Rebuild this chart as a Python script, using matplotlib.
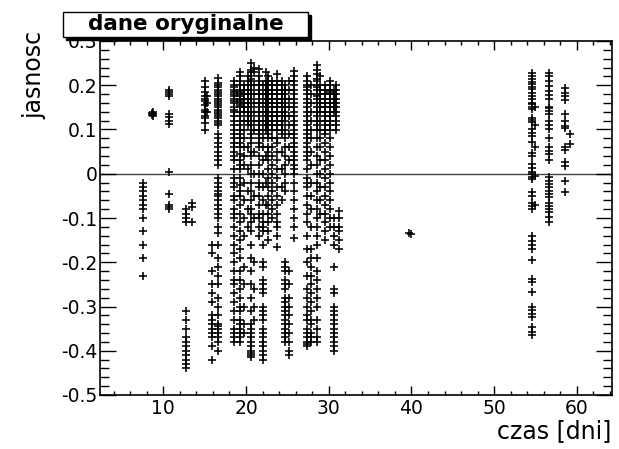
import numpy as np
import matplotlib
matplotlib.use("Agg")
import matplotlib.pyplot as plt
from matplotlib.ticker import MultipleLocator, FuncFormatter
from matplotlib.patches import Rectangle

plt.rcParams['font.family'] = ['DejaVu Sans']
plt.rcParams['axes.unicode_minus'] = False

title_text = "dane oryginalne"
x_label = "czas [dni]"
y_label = "jasnosc"

col_x = [7.6, 8.6, 8.8, 10.7, 12.7, 13.5, 15.0, 15.3, 15.9, 16.6,
         18.6, 19.3, 19.8, 20.2, 20.6, 21.0, 21.6, 22.1, 22.4, 22.7,
         23.2, 23.8, 24.3, 24.7, 25.2, 25.8, 27.4, 27.9, 28.6, 29.0,
         29.6, 30.2, 30.6, 30.9, 31.2, 39.7, 39.9, 54.6, 54.9, 56.6,
         58.6, 59.2]

col_y = [
    [-0.02, -0.03, -0.04, -0.05, -0.06, -0.07, -0.08, -0.10, -0.13, -0.16, -0.19, -0.23],
    [0.138, 0.133],
    [0.140, 0.135, 0.131],
    [0.19, 0.185, 0.18, 0.175, 0.135, 0.128, 0.12, 0.113, 0.005, -0.045, -0.07, -0.075, -0.08],
    [-0.08, -0.09, -0.10, -0.11, -0.31, -0.33, -0.35, -0.37, -0.38, -0.39, -0.40, -0.41,
     -0.42, -0.43, -0.44],
    [-0.065, -0.075, -0.11],
    [0.21, 0.195, 0.185, 0.175, 0.17, 0.165, 0.155, 0.145, 0.14, 0.13, 0.125, 0.115, 0.10],
    [0.175, 0.16, 0.14],
    [-0.16, -0.18, -0.22, -0.25, -0.27, -0.29, -0.32, -0.33, -0.34, -0.35, -0.36, -0.37,
     -0.39, -0.42],
    [0.216, 0.205, 0.20, 0.195, 0.19, 0.185, 0.18, 0.175, 0.17, 0.165, 0.16, 0.155, 0.15,
     0.145, 0.14, 0.135, 0.13, 0.125, 0.12, 0.115, 0.11, 0.09, 0.08, 0.07, 0.06, 0.05,
     0.04, 0.03, 0.02, -0.01, -0.02, -0.03, -0.04, -0.045, -0.05, -0.06, -0.07, -0.08,
     -0.09, -0.10, -0.12, -0.135, -0.16, -0.19, -0.21, -0.23, -0.25, -0.28, -0.30, -0.32,
     -0.34, -0.345, -0.35, -0.36, -0.37, -0.38, -0.40],
    [0.21, 0.20, 0.195, 0.19, 0.185, 0.18, 0.175, 0.17, 0.165, 0.16, 0.15, 0.145, 0.14,
     0.13, 0.12, 0.11, 0.10, 0.09, 0.08, 0.07, 0.06, 0.05, 0.04, 0.03, 0.01, -0.01, -0.02,
     -0.03, -0.05, -0.06, -0.08, -0.09, -0.10, -0.12, -0.14, -0.16, -0.18, -0.20, -0.22,
     -0.24, -0.25, -0.27, -0.29, -0.31, -0.33, -0.35, -0.36, -0.37, -0.38],
    [0.23, 0.22, 0.21, 0.20, 0.19, 0.185, 0.18, 0.175, 0.17, 0.165, 0.16, 0.155, 0.15,
     0.14, 0.13, 0.12, 0.11, 0.10, 0.09, 0.08, 0.07, 0.06, 0.045, 0.03, 0.02, 0.01, -0.01,
     -0.025, -0.04, -0.05, -0.07, -0.09, -0.11, -0.13, -0.15, -0.17, -0.19, -0.22, -0.24,
     -0.26, -0.28, -0.30, -0.31, -0.33, -0.34, -0.35, -0.36, -0.37, -0.38],
    [0.20, 0.19, 0.18, 0.17, 0.16, 0.15, 0.14, 0.12, 0.10, 0.08, 0.06, 0.04, 0.02, -0.02,
     -0.06, -0.10, -0.14, -0.21, -0.25, -0.30, -0.34, -0.36],
    [0.22, 0.21, 0.20, 0.19, 0.18, 0.17, 0.16, 0.15, 0.14, 0.13, 0.12, 0.11, 0.06, 0.01,
     -0.04, -0.08, -0.12],
    [0.25, 0.235, 0.23, 0.22, 0.215, 0.21, 0.20, 0.19, 0.18, 0.17, 0.16, 0.15, 0.14, 0.13,
     0.12, 0.11, 0.10, 0.09, 0.08, 0.07, 0.05, 0.04, 0.02, 0.0, -0.02, -0.04, -0.06,
     -0.08, -0.09, -0.11, -0.13, -0.16, -0.19, -0.22, -0.25, -0.28, -0.31, -0.34, -0.35,
     -0.36, -0.37, -0.38, -0.39, -0.40, -0.405, -0.41, -0.415],
    [0.24, 0.23, 0.20, 0.18, 0.16, 0.14, 0.12, 0.10, 0.05, 0.0, -0.05, -0.10, -0.20,
     -0.26, -0.30, -0.33],
    [0.236, 0.22, 0.21, 0.20, 0.19, 0.18, 0.17, 0.16, 0.15, 0.14, 0.13, 0.12, 0.11, 0.10,
     0.09, 0.08, 0.07, 0.06, 0.04, 0.02, 0.0, -0.02, -0.03, -0.05, -0.07, -0.09, -0.10,
     -0.12, -0.14],
    [0.20, 0.18, 0.16, 0.14, 0.12, 0.10, 0.08, 0.06, 0.03, 0.0, -0.03, -0.06, -0.09,
     -0.11, -0.12, -0.13, -0.16, -0.20, -0.21, -0.24, -0.25, -0.26, -0.27, -0.30, -0.31,
     -0.32, -0.33, -0.35, -0.36, -0.37, -0.38, -0.39, -0.40, -0.41, -0.42],
    [0.23, 0.21, 0.20, 0.19, 0.18, 0.17, 0.16, 0.15, 0.14, 0.13, 0.12, 0.11, 0.10, 0.04,
     -0.02, -0.07],
    [0.22, 0.21, 0.20, 0.19, 0.18, 0.17, 0.16, 0.15, 0.14, 0.13, 0.12, 0.11, 0.10, 0.09,
     0.08, 0.06, 0.05, 0.03, 0.01, -0.01, -0.03, -0.05, -0.07, -0.09, -0.11, -0.13, -0.15],
    [0.21, 0.20, 0.19, 0.18, 0.17, 0.16, 0.15, 0.14, 0.13, 0.12, 0.11, 0.10, 0.08, 0.06,
     0.04, 0.02, 0.0, -0.02, -0.04, -0.06, -0.08, -0.10],
    [0.225, 0.21, 0.20, 0.19, 0.18, 0.17, 0.16, 0.15, 0.14, 0.13, 0.12, 0.11, 0.10, 0.08,
     0.07, 0.05, 0.03, 0.01, -0.01, -0.03, -0.05, -0.07, -0.09, -0.11, -0.12, -0.14, -0.165],
    [0.21, 0.20, 0.19, 0.18, 0.17, 0.16, 0.15, 0.14, 0.13, 0.12, 0.11, 0.10, 0.09, 0.05,
     0.01, -0.03, -0.06],
    [0.20, 0.19, 0.18, 0.17, 0.16, 0.15, 0.14, 0.13, 0.12, 0.10, 0.08, 0.06, 0.04, 0.02,
     0.0, -0.02, -0.04, -0.20, -0.21, -0.22, -0.24, -0.25, -0.26, -0.28, -0.29, -0.30,
     -0.31, -0.32, -0.33, -0.34, -0.35, -0.36, -0.37, -0.38],
    [0.21, 0.19, 0.17, 0.15, 0.13, 0.11, 0.09, 0.06, 0.03, -0.22, -0.25, -0.28, -0.30,
     -0.32, -0.34, -0.36, -0.38, -0.40, -0.41],
    [0.232, 0.22, 0.21, 0.20, 0.19, 0.18, 0.17, 0.16, 0.15, 0.14, 0.13, 0.12, 0.11, 0.10,
     0.09, 0.08, 0.07, 0.06, 0.05, 0.04, 0.03, 0.02, 0.01, 0.0, -0.02, -0.04, -0.06,
     -0.08, -0.10, -0.12, -0.145],
    [0.22, 0.21, 0.20, 0.195, 0.19, 0.18, 0.17, 0.16, 0.15, 0.14, 0.13, 0.12, 0.11, 0.10,
     0.09, 0.08, 0.07, 0.06, 0.05, 0.04, 0.03, 0.01, -0.01, -0.02, -0.03, -0.05, -0.07,
     -0.09, -0.11, -0.14, -0.17, -0.20, -0.23, -0.26, -0.28, -0.30, -0.32, -0.33, -0.35,
     -0.36, -0.37, -0.38, -0.385, -0.39],
    [0.20, 0.18, 0.16, 0.14, 0.12, 0.10, 0.08, 0.05, 0.02, -0.02, -0.05, -0.08, -0.12,
     -0.17, -0.19, -0.21, -0.23, -0.25, -0.27, -0.29, -0.31, -0.33, -0.34, -0.36, -0.37,
     -0.38],
    [0.245, 0.235, 0.225, 0.215, 0.21, 0.20, 0.195, 0.19, 0.18, 0.175, 0.17, 0.16, 0.15,
     0.14, 0.13, 0.12, 0.11, 0.10, 0.08, 0.06, 0.04, 0.02, 0.0, -0.02, -0.04, -0.06,
     -0.08, -0.10, -0.12, -0.14, -0.16, -0.19, -0.22, -0.24, -0.26, -0.28, -0.30, -0.33,
     -0.35, -0.37, -0.38],
    [0.22, 0.20, 0.19, 0.18, 0.17, 0.16, 0.15, 0.14, 0.12, 0.10, 0.08, 0.06, 0.03, 0.0,
     -0.03, -0.06, -0.09],
    [0.20, 0.19, 0.18, 0.17, 0.16, 0.15, 0.14, 0.13, 0.12, 0.11, 0.10, 0.09, 0.07, 0.05,
     0.03, 0.01, -0.01, -0.03, -0.05, -0.07, -0.09, -0.11, -0.13, -0.15],
    [0.21, 0.20, 0.19, 0.185, 0.18, 0.17, 0.16, 0.15, 0.14, 0.13, 0.12, 0.11, 0.10, 0.08,
     0.06, 0.04, 0.02, 0.0, -0.02, -0.04, -0.06, -0.08, -0.10, -0.12],
    [0.19, 0.18, 0.17, 0.16, 0.15, 0.14, -0.10, -0.12, -0.14, -0.16, -0.21, -0.26, -0.27,
     -0.30, -0.31, -0.32, -0.33, -0.34, -0.35, -0.36, -0.37, -0.38, -0.39, -0.40],
    [0.20, 0.19, 0.18, 0.17, 0.16, 0.15, 0.14, 0.13, 0.12, 0.11, 0.10],
    [-0.085, -0.10, -0.12, -0.13, -0.15, -0.17],
    [-0.135],
    [-0.137],
    [0.228, 0.221, 0.213, 0.208, 0.202, 0.197, 0.191, 0.183, 0.176, 0.168, 0.161, 0.157,
     0.151, 0.146, 0.127, 0.121, 0.116, 0.101, 0.093, 0.086, 0.071, 0.048, 0.041, 0.022,
     0.014, 0.003, -0.001, -0.008, -0.012, -0.042, -0.050, -0.065, -0.072, -0.080,
     -0.140, -0.151, -0.162, -0.170, -0.196, -0.237, -0.245, -0.267, -0.301, -0.309,
     -0.316, -0.324, -0.346, -0.357, -0.365],
    [0.15, 0.11, 0.06, -0.005, -0.07],
    [0.228, 0.221, 0.210, 0.198, 0.187, 0.179, 0.170, 0.151, 0.148, 0.142, 0.134, 0.119,
     0.111, 0.102, 0.081, 0.060, 0.051, 0.044, 0.032, -0.008, -0.016, -0.023, -0.031,
     -0.038, -0.046, -0.053, -0.065, -0.072, -0.080, -0.087, -0.098, -0.110],
    [0.194, 0.183, 0.176, 0.166, 0.134, 0.119, 0.108, 0.104, 0.060, 0.053, 0.026, 0.018,
     -0.016, -0.042],
    [0.089, 0.068],
]

x_limits = (2.35, 64.2)
y_limits = (-0.5, 0.3)

xs = np.concatenate([np.full(len(v), cx) for cx, v in zip(col_x, col_y)])
ys = np.concatenate([np.asarray(v, dtype=float) for v in col_y])

W, H = 619, 449
fig = plt.figure(figsize=(W / 100, H / 100), dpi=100)
fig.patch.set_facecolor('white')
ax = fig.add_axes([100 / W, 54 / H, 511.7 / W, 354 / H])

ax.axhline(0, color='#444444', lw=1.0, zorder=1)
ax.plot(xs, ys, linestyle='none', marker='+', color='black',
        markersize=5.6, markeredgewidth=1.15, zorder=2)

ax.set_xlim(*x_limits)
ax.set_ylim(*y_limits)

ax.xaxis.set_major_locator(MultipleLocator(10))
ax.xaxis.set_minor_locator(MultipleLocator(2))
ax.yaxis.set_major_locator(MultipleLocator(0.1))
ax.yaxis.set_minor_locator(MultipleLocator(0.02))


def yfmt(v, pos):
    v = round(v, 3)
    if abs(v) < 1e-9:
        return "0"
    return f"{v:g}"


ax.yaxis.set_major_formatter(FuncFormatter(yfmt))
ax.xaxis.set_major_formatter(FuncFormatter(lambda v, p: f"{v:g}"))

for sp in ax.spines.values():
    sp.set_linewidth(1.2)
    sp.set_color('black')

ax.tick_params(axis='x', which='major', direction='in', length=6.5, width=1.0,
               top=True, bottom=True, labelsize=13.5, pad=3)
ax.tick_params(axis='x', which='minor', direction='in', length=3.2, width=1.0,
               top=True, bottom=True)
ax.tick_params(axis='y', which='major', direction='in', length=11.5, width=1.0,
               left=True, right=True, labelsize=13.5, pad=2)
ax.tick_params(axis='y', which='minor', direction='in', length=6.5, width=1.0,
               left=True, right=True)

ax.set_xlabel(x_label, fontsize=17, ha='right')
ax.xaxis.set_label_coords(1.0, -0.068)
ax.xaxis.label.set_va('top')
ax.set_ylabel(y_label, fontsize=17, ha='right')
ax.yaxis.set_label_coords(-0.105, 1.03)

# title box with shadow (ROOT style)
bx0, by0, bw, bh = 63, 12, 245, 25
shadow = Rectangle(((bx0 + 3) / W, (H - by0 - bh - 3) / H), bw / W, bh / H,
                   transform=fig.transFigure, facecolor='black', edgecolor='black',
                   zorder=10)
box = Rectangle((bx0 / W, (H - by0 - bh) / H), bw / W, bh / H,
                transform=fig.transFigure, facecolor='white', edgecolor='black',
                lw=1.0, zorder=11)
fig.add_artist(shadow)
fig.add_artist(box)
fig.text((bx0 + bw / 2) / W, (H - by0 - bh / 2) / H, title_text, ha='center',
         va='center', fontsize=15.5, fontweight='bold', zorder=12)

fig.savefig("out.png", dpi=100)
